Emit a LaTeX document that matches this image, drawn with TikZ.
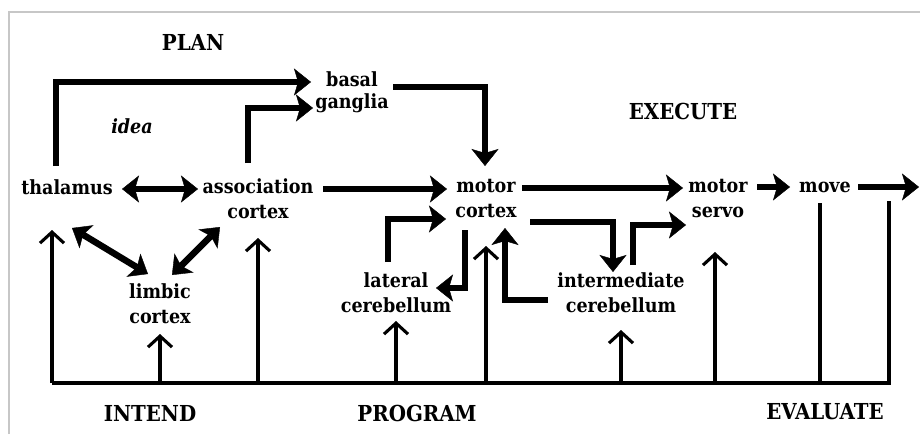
\documentclass[tikz,border=0pt]{standalone}
\usepackage{fontspec}
\setmainfont{DejaVu Serif Condensed}
\usetikzlibrary{arrows.meta,calc}
\begin{document}
\begin{tikzpicture}[x=1pt,y=-1pt,
  lbl/.style={font=\fontsize{19.5}{25}\selectfont\bfseries, inner sep=0pt, anchor=base, align=center},
  stagelbl/.style={lbl, font=\fontsize{22}{25}\selectfont\bfseries},
  bighead/.tip={Stealth[length=17pt,width=27pt,inset=4pt,line width=0.4pt]},
  heavy/.style={line width=6.5pt, -bighead},
  heavyboth/.style={line width=6.5pt, bighead-bighead},
  light/.style={line width=3.1pt, -{Straight Barb[length=11pt,width=24pt]}},
  bus/.style={line width=3.1pt},
  framecol/.style={draw=black!22, line width=1.3pt}]
\useasboundingbox (0,0) rectangle (920,434);
\draw[framecol] (9,434) -- (9,12) -- (920,12);

% labels (two-line labels sit on the baseline of their lower line)
\node[stagelbl] (plan) at (193,50) {PLAN};
\node[lbl,font=\fontsize{19.5}{22}\selectfont\bfseries] (bg) at (352,108) {basal\\ganglia};
\node[lbl,font=\fontsize{19.5}{25}\selectfont\bfseries\itshape] (idea) at (132,133) {idea};
\node[stagelbl] (exec) at (683,119) {EXECUTE};
\node[lbl] (thal) at (67,194) {thalamus};
\node[lbl] (assoc) at (258,218) {association\\cortex};
\node[lbl] (mc) at (486,217) {motor\\cortex};
\node[lbl] (ms) at (718,217) {motor\\servo};
\node[lbl] (move) at (825,192) {move};
\node[lbl] (limbic) at (160,323) {limbic\\cortex};
\node[lbl] (latc) at (396,312) {lateral\\cerebellum};
\node[lbl] (intc) at (621,312) {intermediate\\cerebellum};
\node[stagelbl] (intend) at (150,421) {INTEND};
\node[stagelbl] (prog) at (417,421) {PROGRAM};
\node[stagelbl] (eval) at (825,419) {EVALUATE};

% heavy pathways
\draw[heavy] ($(thal.base)+(-11,-28)$) |- ($(bg.base)+(-41,-26)$);
\draw[heavy] ($(assoc.base)+(-10,-55)$) |- ($(bg.base)+(-39,0)$);
\draw[heavy] ($(bg.base)+(41,-21)$) -| ($(mc.base)+(-1,-51)$);
\draw[heavyboth] ($(thal.base)+(55,-5)$) -- ($(assoc.base)+(-60,-29)$);
\draw[heavy] ($(assoc.base)+(65,-29)$) -- ($(mc.base)+(-39,-28)$);
\draw[heavy] ($(latc.base)+(-8,-50)$) |- ($(mc.base)+(-40,2)$);
\draw[heavy] ($(mc.base)+(-21,13)$) |- ($(latc.base)+(40,-24)$);
\draw[heavy] ($(intc.base)+(-73,-12)$) -| ($(mc.base)+(19,11)$);
\draw[heavy] ($(mc.base)+(36,-29)$) -- ($(ms.base)+(-35,-29)$);
\draw[heavy] ($(mc.base)+(44,5)$) -| ($(intc.base)+(-8,-40)$);
\draw[heavy] ($(intc.base)+(12,-47)$) |- ($(ms.base)+(-32,8)$);
\draw[heavy] ($(ms.base)+(39,-30)$) -- ($(move.base)+(-35,-5)$);
\coordinate (out) at (919,187);
\draw[heavy] ($(move.base)+(33,-5)$) -- (out);
\draw[heavyboth] ($(thal.base)+(5,34)$) -- ($(limbic.base)+(-12,-49)$);
\draw[heavyboth] ($(assoc.base)+(-38,9)$) -- ($(limbic.base)+(12,-48)$);

% evaluation bus
\coordinate (busL) at (52,383);
\coordinate (busR) at (889,383);
\coordinate (evalEnd) at (889,201);
\coordinate (msx) at ($(ms.base)+(-3,0)$);
\coordinate (mvx) at ($(move.base)+(-5,0)$);
\draw[bus] (busL) -- (busR) -- (evalEnd);
\draw[light] (busL) -- ($(thal.base)+(-15,36)$);
\draw[light] (limbic.base |- busL) -- ($(limbic.base)+(0,11)$);
\draw[light] (assoc.base |- busL) -- ($(assoc.base)+(0,20)$);
\draw[light] (latc.base |- busL) -- ($(latc.base)+(0,9)$);
\draw[light] (mc.base |- busL) -- ($(mc.base)+(0,29)$);
\draw[light] (intc.base |- busL) -- ($(intc.base)+(0,18)$);
\draw[light] (msx |- busL) -- ($(ms.base)+(-3,35)$);
\draw[bus] (mvx |- busL) -- ($(move.base)+(-5,11)$);
\end{tikzpicture}
\end{document}
